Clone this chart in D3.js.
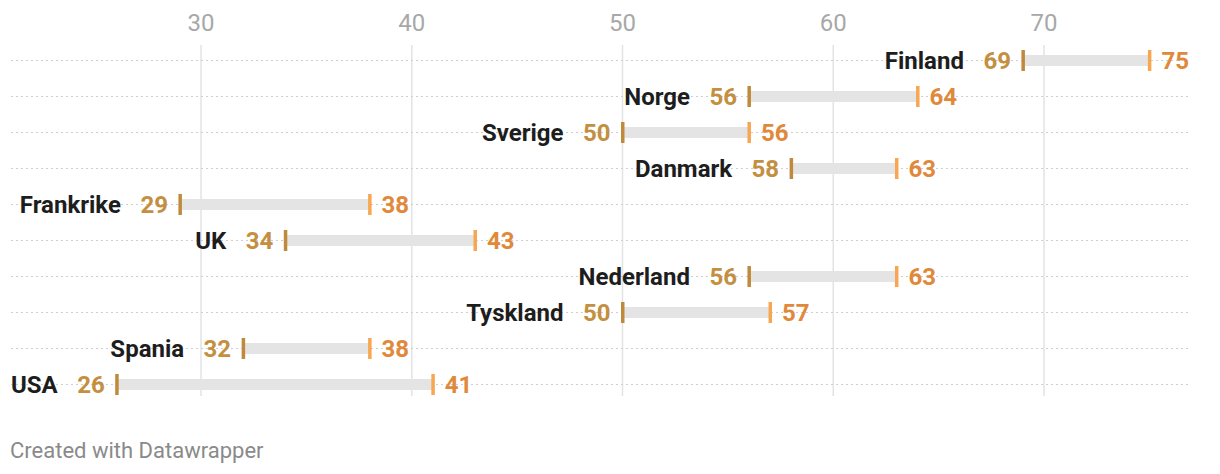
<!DOCTYPE html>
<html><head><meta charset="utf-8">
<script src="https://cdn.jsdelivr.net/npm/d3@7"></script>
<style>
body{margin:0;background:#fff;font-family:Roboto,"Noto Sans",sans-serif;}
svg{display:block}
</style></head><body>
<svg id="c" width="1220" height="474"></svg>
<script>
const countries = ["Finland","Norge","Sverige","Danmark","Frankrike","UK","Nederland","Tyskland","Spania","USA"];
const startValues = [69,56,50,58,29,34,56,50,32,26];
const endValues = [75,64,56,63,38,43,63,57,38,41];
const tickValues = [30,40,50,60,70];

const svg = d3.select("#c");
const x = d3.scaleLinear().domain([30,70]).range([201,1044]);
const y = d3.scalePoint().domain(countries).range([60,384]);

svg.append("g").selectAll("line").data(tickValues).join("line")
  .attr("x1",d=>x(d)).attr("x2",d=>x(d)).attr("y1",45).attr("y2",396)
  .attr("stroke","#e3e3e3").attr("stroke-width",1.5);
svg.append("g").selectAll("text").data(tickValues).join("text")
  .attr("x",d=>x(d)).attr("y",31).attr("text-anchor","middle")
  .attr("font-size",24).attr("fill","#a8a8a8").text(d=>d);

svg.append("g").selectAll("line").data(countries).join("line")
  .attr("x1",11).attr("x2",1188).attr("y1",d=>y(d)+0.5).attr("y2",d=>y(d)+0.5)
  .attr("stroke","#cfcfcf").attr("stroke-width",1).attr("stroke-dasharray","2,3");

const rows = countries.map((c,i)=>({c,s:startValues[i],e:endValues[i]}));
const g = svg.append("g").selectAll("g").data(rows).join("g");

g.append("rect")
  .attr("x",d=>x(d.s)).attr("width",d=>x(d.e)-x(d.s))
  .attr("y",d=>y(d.c)-5).attr("height",11).attr("fill","#e4e4e4");

g.append("rect")
  .attr("x",d=>x(d.s)-1.5).attr("width",3.5)
  .attr("y",d=>y(d.c)-10).attr("height",21).attr("fill","#c08a3c");
g.append("rect")
  .attr("x",d=>x(d.e)-1.5).attr("width",3.5)
  .attr("y",d=>y(d.c)-10).attr("height",21).attr("fill","#f7a752");

g.append("text")
  .attr("x",d=>x(d.s)-12).attr("y",d=>y(d.c)+8.5).attr("text-anchor","end")
  .attr("font-size",24).attr("font-weight",700).attr("fill","#c38f40").text(d=>d.s);
g.append("text")
  .attr("x",d=>x(d.e)+12).attr("y",d=>y(d.c)+8.5)
  .attr("font-size",24).attr("font-weight",700).attr("fill","#e0893a").text(d=>d.e);
g.append("text")
  .attr("x",d=>x(d.s)-59).attr("y",d=>y(d.c)+8.5).attr("text-anchor","end")
  .attr("font-size",24).attr("font-weight",700).attr("fill","#1d1d1d").text(d=>d.c);

svg.append("text").attr("x",10).attr("y",458).attr("font-size",22).attr("fill","#8a8a8a")
  .text("Created with Datawrapper");
</script>
</body></html>
